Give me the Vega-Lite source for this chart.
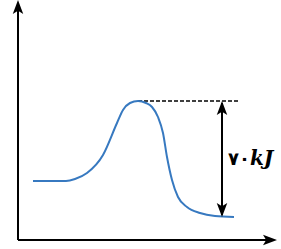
{
  "$schema": "https://vega.github.io/schema/vega-lite/v6.json",
  "width": 281,
  "height": 249,
  "padding": 0,
  "autosize": {"type": "fit", "contains": "padding"},
  "background": "white",
  "config": {"view": {"stroke": null}},
  "datasets": {
    "curve": [
      {"x": 33, "y": 68}, {"x": 50, "y": 68}, {"x": 66, "y": 68}, {"x": 75, "y": 70},
      {"x": 87, "y": 76}, {"x": 103, "y": 94}, {"x": 117, "y": 126}, {"x": 123, "y": 139},
      {"x": 130, "y": 146}, {"x": 138, "y": 148}, {"x": 146, "y": 146}, {"x": 152, "y": 142},
      {"x": 158, "y": 132}, {"x": 163, "y": 116}, {"x": 167, "y": 92}, {"x": 172, "y": 69},
      {"x": 178, "y": 52}, {"x": 187, "y": 42}, {"x": 200, "y": 36}, {"x": 215, "y": 33},
      {"x": 234, "y": 32}
    ],
    "axes": [
      {"x": 18, "x2": 18, "y": 9, "y2": 242},
      {"x": 18, "x2": 268, "y": 9, "y2": 9}
    ],
    "dashed": [{"x": 138, "x2": 240, "y": 148}],
    "shaft": [{"x": 222, "y": 34, "y2": 146}],
    "up": [{"x": 18, "y": 242}, {"x": 222, "y": 141}],
    "down": [{"x": 222, "y": 39}],
    "right": [{"x": 270, "y": 9}],
    "digits": [{"x": 228, "y": 84, "label": "۷۰"}],
    "unit": [{"x": 250, "y": 84, "label": "kJ"}]
  },
  "layer": [
    {
      "data": {"name": "axes"},
      "mark": {"type": "rule", "color": "black", "strokeWidth": 2},
      "encoding": {
        "x": {"field": "x", "type": "quantitative", "scale": {"domain": [0, 281], "nice": false, "zero": false}, "axis": null},
        "x2": {"field": "x2"},
        "y": {"field": "y", "type": "quantitative", "scale": {"domain": [0, 249], "nice": false, "zero": false}, "axis": null},
        "y2": {"field": "y2"}
      }
    },
    {
      "data": {"name": "dashed"},
      "mark": {"type": "rule", "color": "black", "strokeWidth": 1.5, "strokeDash": [4, 2]},
      "encoding": {
        "x": {"field": "x", "type": "quantitative"},
        "x2": {"field": "x2"},
        "y": {"field": "y", "type": "quantitative"}
      }
    },
    {
      "data": {"name": "curve"},
      "mark": {"type": "line", "color": "#3779c0", "strokeWidth": 2, "interpolate": "monotone"},
      "encoding": {
        "x": {"field": "x", "type": "quantitative"},
        "y": {"field": "y", "type": "quantitative"}
      }
    },
    {
      "data": {"name": "shaft"},
      "mark": {"type": "rule", "color": "black", "strokeWidth": 2},
      "encoding": {
        "x": {"field": "x", "type": "quantitative"},
        "y": {"field": "y", "type": "quantitative"},
        "y2": {"field": "y2"}
      }
    },
    {
      "data": {"name": "up"},
      "mark": {"type": "point", "shape": "M0,-1L0.75,1L0,0.55L-0.75,1Z", "filled": true, "color": "black", "opacity": 1, "size": 196},
      "encoding": {
        "x": {"field": "x", "type": "quantitative"},
        "y": {"field": "y", "type": "quantitative"}
      }
    },
    {
      "data": {"name": "down"},
      "mark": {"type": "point", "shape": "M0,1L0.75,-1L0,-0.55L-0.75,-1Z", "filled": true, "color": "black", "opacity": 1, "size": 196},
      "encoding": {
        "x": {"field": "x", "type": "quantitative"},
        "y": {"field": "y", "type": "quantitative"}
      }
    },
    {
      "data": {"name": "right"},
      "mark": {"type": "point", "shape": "M1,0L-1,0.75L-0.55,0L-1,-0.75Z", "filled": true, "color": "black", "opacity": 1, "size": 196},
      "encoding": {
        "x": {"field": "x", "type": "quantitative"},
        "y": {"field": "y", "type": "quantitative"}
      }
    },
    {
      "data": {"name": "digits"},
      "mark": {"type": "text", "align": "left", "baseline": "alphabetic", "font": "DejaVu Sans", "fontSize": 18, "fontWeight": "bold", "color": "black"},
      "encoding": {
        "x": {"field": "x", "type": "quantitative"},
        "y": {"field": "y", "type": "quantitative"},
        "text": {"field": "label"}
      }
    },
    {
      "data": {"name": "unit"},
      "mark": {"type": "text", "align": "left", "baseline": "alphabetic", "font": "DejaVu Serif", "fontSize": 20, "fontStyle": "italic", "fontWeight": "bold", "color": "black"},
      "encoding": {
        "x": {"field": "x", "type": "quantitative"},
        "y": {"field": "y", "type": "quantitative"},
        "text": {"field": "label"}
      }
    }
  ]
}
